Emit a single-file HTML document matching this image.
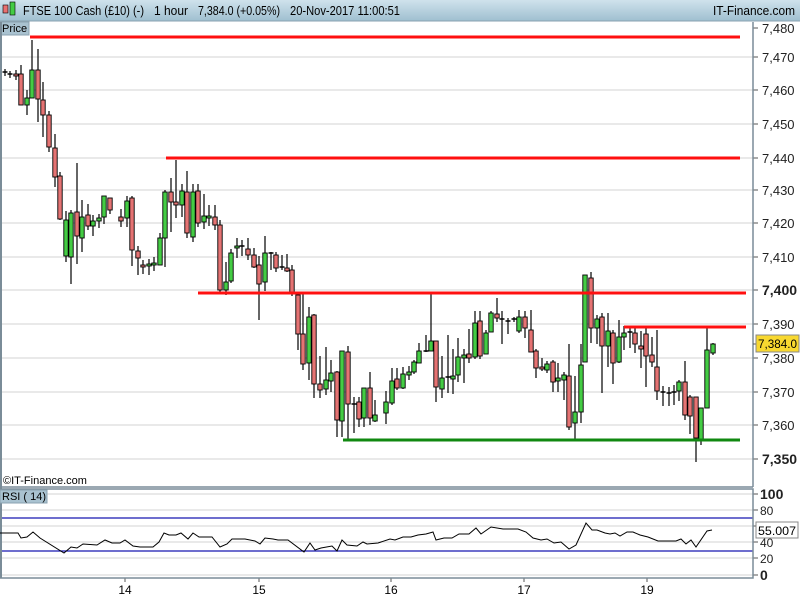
<!DOCTYPE html><html><head><meta charset="utf-8"><style>
body{margin:0;width:800px;height:600px;overflow:hidden;background:#fff;font-family:"Liberation Sans",sans-serif}
</style></head><body>
<svg id="s" width="800" height="600" xmlns="http://www.w3.org/2000/svg" style="position:absolute;left:0;top:0">
<defs><linearGradient id="hg" x1="0" y1="0" x2="0" y2="1"><stop offset="0" stop-color="#cfe2ec"/><stop offset="1" stop-color="#9fbfd0"/></linearGradient></defs>
<rect x="0" y="0" width="800" height="21" fill="url(#hg)"/>
<line x1="0" y1="21" x2="800" y2="21" stroke="#8aa2b0"/>
<rect x="3" y="5" width="5" height="8" fill="#e87070" stroke="#000" stroke-width="0.6"/>
<rect x="10" y="2" width="5" height="13" fill="#4c4" stroke="#000" stroke-width="0.6"/>
<text x="23" y="15" font-size="13" fill="#000" textLength="121" lengthAdjust="spacingAndGlyphs">FTSE 100 Cash (£10) (-)</text>
<text x="154" y="15" font-size="13" fill="#000" textLength="34" lengthAdjust="spacingAndGlyphs">1 hour</text>
<text x="198" y="15" font-size="13" fill="#000" textLength="82" lengthAdjust="spacingAndGlyphs">7,384.0 (+0.05%)</text>
<text x="290" y="15" font-size="13" fill="#000" textLength="110" lengthAdjust="spacingAndGlyphs">20-Nov-2017 11:00:51</text>
<text x="713" y="15" font-size="13" fill="#000" textLength="82" lengthAdjust="spacingAndGlyphs">IT-Finance.com</text>
<g id="grid"></g>
<rect x="0" y="22" width="29" height="13" fill="#a9c2d0" stroke="#8aa2b0"/>
<text x="2" y="32" font-size="11">Price</text>
<line x1="1" y1="22" x2="1" y2="578" stroke="#7a8c98" stroke-width="2"/>
<line x1="753" y1="22" x2="753" y2="487" stroke="#7a8c98" stroke-width="1.5"/>
<line x1="0" y1="487" x2="753" y2="487" stroke="#7a8c98" stroke-width="1.5"/>
<rect x="0" y="489" width="753" height="89" fill="none" stroke="#7a8c98" stroke-width="1.5"/>
<text x="3" y="484" font-size="11">©IT-Finance.com</text>
<rect x="0" y="490" width="47" height="13" fill="#a9c2d0" stroke="#8aa2b0"/>
<text x="2" y="500" font-size="11">RSI ( 14)</text>
<g id="c"></g>
</svg>
<script>
var S=document.getElementById('c'),G=document.getElementById('grid'),NS='http://www.w3.org/2000/svg';
function el(p,t,a,txt){var e=document.createElementNS(NS,t);for(var k in a)e.setAttribute(k,a[k]);if(txt)e.textContent=txt;p.appendChild(e);return e;}
var py=[[7480,28],[7470,57],[7460,90],[7450,124],[7440,158],[7430,190],[7420,223],[7410,257],[7400,290],[7390,324],[7380,358],[7370,392],[7360,425],[7350,459]];
py.forEach(function(p){var y=p[1];if(y>30)el(G,'line',{x1:2,y1:y,x2:753,y2:y,stroke:'#e2e2e2','stroke-width':1.5});
el(G,'line',{x1:753,y1:y,x2:758,y2:y,stroke:'#555'});
var b=(p[0]==7400||p[0]==7350);el(G,'text',{x:762,y:y+5,'font-size':b?14:13,'font-weight':b?'bold':'normal',fill:'#222'},(''+p[0]).replace(/^(\d)/,'$1,'));});
[[100,494],[80,510],[60,526],[40,542],[20,558],[0,575]].forEach(function(p){el(G,'line',{x1:2,y1:p[1],x2:753,y2:p[1],stroke:'#e2e2e2','stroke-width':1.5});
el(G,'line',{x1:753,y1:p[1],x2:758,y2:p[1],stroke:'#555'});
var b=(p[0]==100||p[0]==0);el(G,'text',{x:760,y:p[1]+5,'font-size':b?14:12,'font-weight':b?'bold':'normal',fill:'#222'},''+p[0]);});
el(G,'line',{x1:2,y1:518,x2:753,y2:518,stroke:'#1818b0','stroke-width':1.3});
el(G,'line',{x1:2,y1:551,x2:753,y2:551,stroke:'#1818b0','stroke-width':1.3});
[[125,'14'],[259,'15'],[391,'16'],[524,'17'],[647,'19']].forEach(function(p){el(G,'line',{x1:p[0],y1:578,x2:p[0],y2:582,stroke:'#555'});el(G,'text',{x:p[0],y:594,'font-size':12,'text-anchor':'middle'},p[1]);});
var C=[[5,72,72,69,76],[10,74,74,71,78],[16,74,76,70,80],[21,74,105,65,105],[27,105,98,90,115],[32,98,70,40,98],[38,70,99,49,122],[43,100,115,82,137],[49,115,147,111,152],[55,148,177,134,187],[60,176,219,172,220],[66,256,220,211,262],[71,257,213,210,284],[77,212,236,163,264],[82,238,217,200,252],[88,215,226,204,230],[93,226,221,215,236],[99,221,218,214,228],[104,217,196,196,224],[110,198,210,198,214],[121,217,221,209,227],[127,218,201,196,227],[132,198,250,196,266],[138,251,258,246,275],[143,265,267,260,274],[149,266,264,259,275],[154,265,263,257,271],[160,265,238,233,264],[165,238,192,190,267],[171,192,202,178,232],[176,202,205,160,218],[182,205,191,184,217],[187,192,233,171,238],[193,237,192,184,242],[198,191,223,184,227],[204,222,216,194,229],[209,218,216,205,226],[215,217,225,205,230],[220,225,290,220,293],[226,290,282,262,295],[231,281,253,249,283],[237,248,246,238,258],[242,246,246,240,256],[248,249,255,238,260],
[254,255,267,248,268],[259,265,284,256,320],[265,282,253,236,291],[271,253,253,252,270],[276,255,268,252,272],[282,267,267,255,270],[287,268,271,254,272],[292,270,294,265,296],[298,295,334,292,350],[303,334,364,292,370],[309,363,317,307,380],[314,315,384,314,398],[320,384,390,356,398],[326,389,380,347,395],[331,381,373,360,392],[337,372,420,371,437],[342,421,351,351,437],[348,352,404,346,441],[354,404,404,397,433],[359,402,419,397,427],[364,418,388,388,427],[370,388,418,372,425],[375,421,415,400,422],[386,413,402,391,424],[392,403,381,368,405],[397,379,388,368,390],[403,388,374,367,389],[409,375,372,366,380],[414,372,362,360,374],[419,363,351,343,363],[426,351,351,335,352],[431,351,341,293,351],[436,341,387,341,402],[442,389,378,356,398],[448,377,377,335,393],[453,379,376,349,394],[458,375,357,338,382],[464,358,355,349,383],[469,354,358,329,363],[475,357,323,311,359],[480,321,356,311,359],[486,354,333,330,354],[491,332,313,311,332],[497,314,318,298,322],[502,319,319,311,344],[508,321,321,318,334],[514,319,319,317,322],[519,331,317,310,333],[525,317,328,311,338],[531,330,352,310,352],[536,351,368,349,378],[542,367,369,358,371],[547,370,364,361,373],[553,362,382,360,392],[558,381,378,363,392],[564,380,375,372,400],[569,376,427,344,430],[575,423,412,376,440],[581,412,365,344,423],[585,362,275,275,362],[591,278,328,272,343],[597,328,319,315,344],[602,317,346,313,393],[608,346,331,313,367],[613,333,363,330,384],[619,362,337,320,363],[624,337,333,326,350],[630,332,332,328,348],[635,333,344,328,353],[641,346,349,331,368],[646,334,356,328,387],[652,355,362,337,367],[657,367,391,330,400],[663,392,392,386,406],[669,393,393,387,406],[674,392,392,385,405],[679,391,382,380,401],[685,382,415,361,420],[690,397,416,395,434],[696,397,438,397,462],[701,440,408,408,445],[707,408,350,328,408],[713,353,344,343,355]];
C.forEach(function(c){var x=c[0],o=c[1],cl=c[2];var t=Math.min(o,cl),b=Math.max(o,cl);
el(S,'line',{x1:x,y1:c[3],x2:x,y2:c[4],stroke:'#000','stroke-width':1.2});
if(b-t<2){el(S,'line',{x1:x-2.5,y1:o,x2:x+2.5,y2:o,stroke:'#000','stroke-width':1.5});}
else el(S,'rect',{x:x-2.2,y:t,width:4.4,height:b-t,fill:(cl<o?'#44cc44':'#e57373'),stroke:'#000','stroke-width':0.9});});
[[30,740,37,'#ff1010'],[166,740,158,'#ff1010'],[198,746,293,'#ff1010'],[624,746,327,'#ff1010'],[343,740,440,'#118811']].forEach(function(l){el(S,'line',{x1:l[0],y1:l[2],x2:l[1],y2:l[2],stroke:l[3],'stroke-width':3});});
var R=[[0,533],[18,533],[21,538],[27,537],[33,532],[40,538],[64,553],[71,547],[77,548],[83,544],[97,545],[105,540],[112,543],[120,543],[125,540],[133,546],[140,547],[153,547],[159,542],[164,533],[169,535],[176,535],[181,533],[188,539],[193,533],[199,537],[212,537],[220,547],[227,544],[232,539],[245,539],[255,541],[260,544],[265,538],[273,539],[278,540],[288,540],[304,552],[310,543],[315,550],[321,548],[332,546],[337,551],[342,540],[347,545],[357,546],[363,542],[367,544],[378,543],[390,539],[395,540],[403,537],[411,537],[418,535],[426,534],[433,532],[436,540],[444,538],[452,538],[459,534],[469,534],[476,528],[481,534],[491,527],[503,529],[518,529],[526,532],[533,538],[541,540],[547,539],[554,543],[561,542],[569,549],[576,545],[586,523],[592,530],[597,530],[605,533],[610,534],[615,533],[620,536],[627,532],[633,532],[640,535],[648,537],[658,541],[676,541],[681,539],[686,544],[691,540],[696,547],[707,531],[712,530]];
el(S,'polyline',{points:R.map(function(p){return p.join(',')}).join(' '),fill:'none',stroke:'#000','stroke-width':1});
el(S,'line',{x1:753,y1:344,x2:757,y2:344,stroke:'#555'});
el(S,'rect',{x:756,y:335,width:43,height:17,fill:'#f8d830',stroke:'#888'});
el(S,'text',{x:758,y:348,'font-size':12,textLength:39,lengthAdjust:'spacingAndGlyphs'},'7,384.0');
el(S,'rect',{x:756,y:522,width:42,height:16,fill:'#fff',stroke:'#888'});
el(S,'text',{x:758,y:535,'font-size':12,textLength:38,lengthAdjust:'spacingAndGlyphs'},'55.007');
</script>
</body></html>
